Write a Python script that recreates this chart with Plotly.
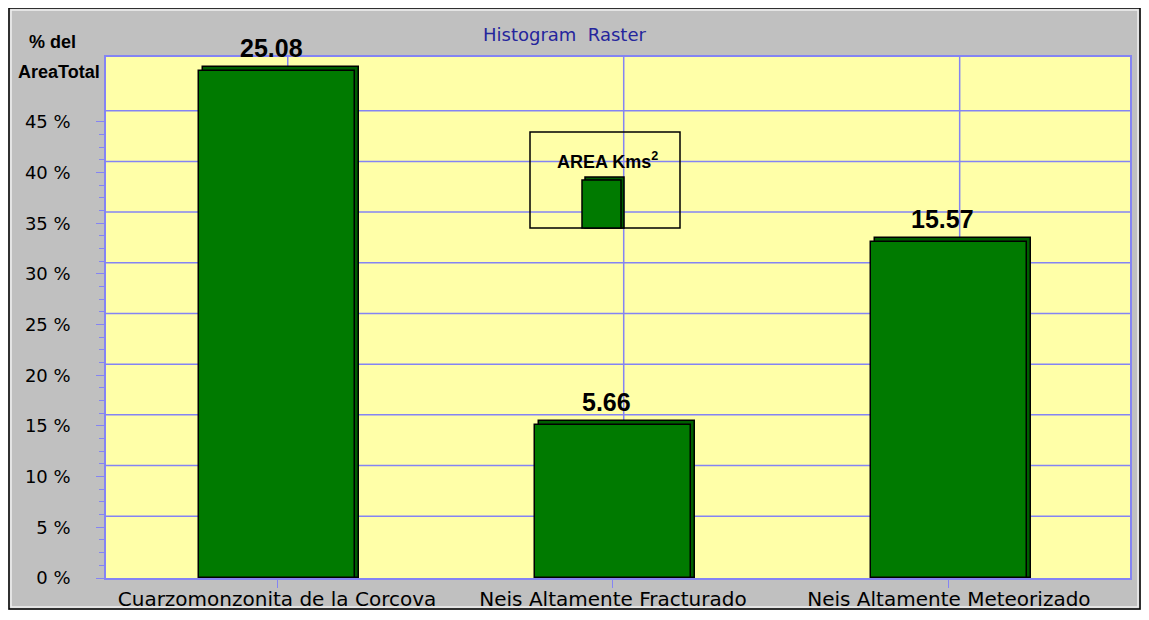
import plotly.graph_objects as go

# data
categories = ['Cuarzomonzonita de la Corcova', 'Neis Altamente Fracturado', 'Neis Altamente Meteorizado']
pct_area = [50.0, 15.1, 33.1]          # bar height, % del area total
area_kms2 = ['25.08', '5.66', '15.57']  # labels above bars
y_ticks = [0, 5, 10, 15, 20, 25, 30, 35, 40, 45]
y_tick_labels = ['%d %%' % v for v in y_ticks]

# page has an 8px body margin, so the figure starts at (8, 8) of the window
OFF = 8
W, H = 1141 - OFF, 610 - OFF
L, R, T, B = 106, 1130, 57, 578   # plot area in window pixels

def px(x):
    return (x - L) / (R - L)

def py(y):
    return (B - y) / (B - T)

grid_col = '#8484f4'
bold_font = 'Liberation Sans Narrow, Arial Narrow, Liberation Sans, Arial'
depth = 0.4    # 3d look of the old chart
shift = 0.012

fig = go.Figure()

# back face (depth)
fig.add_trace(go.Bar(
    x=categories,
    y=[v + depth for v in pct_area],
    width=0.464, offset=-0.232 + shift,
    marker=dict(color='#005f00', line=dict(color='black', width=1.5)),
    hoverinfo='skip'))

# front face
fig.add_trace(go.Bar(
    x=categories,
    y=pct_area,
    width=0.464, offset=-0.232,
    marker=dict(color='#007a00', line=dict(color='black', width=1.5))))

# value labels
for c, v, t in zip(categories, pct_area, area_kms2):
    fig.add_annotation(x=c, y=v + depth, text=t, showarrow=False, yanchor='bottom', yshift=3,
                       xshift=-6,
                       font=dict(family=bold_font, size=25, color='black', weight='bold'))

shapes = []
# the grid in the original is drawn a little off the ticks
for k in range(1, 10):
    shapes.append(dict(type='line', xref='paper', yref='y', x0=0, x1=1, y0=5 * k + 1.1, y1=5 * k + 1.1,
                       line=dict(color=grid_col, width=1.5), layer='below'))
for i in range(len(categories)):
    shapes.append(dict(type='line', xref='x', yref='paper', x0=i + 0.032, x1=i + 0.032, y0=0, y1=1,
                       line=dict(color=grid_col, width=1.5), layer='below'))
# window frame
shapes.append(dict(type='rect', xref='paper', yref='paper', x0=px(9), x1=px(1140), y0=py(609), y1=py(8),
                   line=dict(color='black', width=1.5), layer='above'))
shapes.append(dict(type='rect', xref='paper', yref='paper', x0=px(11), x1=px(1138), y0=py(607), y1=py(10),
                   line=dict(color='#f0f0f0', width=1.5), layer='above'))
# legend box
shapes.append(dict(type='rect', xref='paper', yref='paper', x0=px(530), x1=px(680), y0=py(228), y1=py(132),
                   line=dict(color='black', width=1.5), layer='above'))
shapes.append(dict(type='rect', xref='paper', yref='paper', x0=px(585), x1=px(624), y0=py(228), y1=py(177),
                   fillcolor='#005f00', line=dict(color='black', width=1.5), layer='above'))
shapes.append(dict(type='rect', xref='paper', yref='paper', x0=px(582), x1=px(621), y0=py(228), y1=py(180),
                   fillcolor='#007a00', line=dict(color='black', width=1.5), layer='above'))

fig.update_layout(
    width=W, height=H,
    margin=dict(l=L - OFF, r=W - (R - OFF), t=T - OFF, b=H - (B - OFF)),
    paper_bgcolor='#c0c0c0',
    plot_bgcolor='#ffffa8',
    barmode='overlay',
    bargap=0,
    showlegend=False,
    shapes=shapes,
    xaxis=dict(range=[-0.509, 2.539], showgrid=False, showline=True, linecolor=grid_col, linewidth=1.5,
               mirror=True, ticks='outside', ticklen=8, tickcolor=grid_col, automargin=False,
               ticklabelstandoff=-6,
               tickfont=dict(family='DejaVu Sans', size=20, color='black')),
    yaxis=dict(range=[0, 51.4], showgrid=False, zeroline=False, showline=True, linecolor=grid_col,
               linewidth=1.5, mirror=True, tickmode='array', tickvals=y_ticks, ticktext=y_tick_labels,
               ticks='outside', ticklen=8, tickcolor=grid_col, ticklabelstandoff=22, automargin=False,
               tickfont=dict(family='DejaVu Sans', size=18, color='black'),
               minor=dict(tickmode='array', tickvals=[k * 1.25 for k in range(37)], ticks='outside',
                          ticklen=5, tickcolor=grid_col)),
)

# titles
def label(x, y, text, **font):
    fig.add_annotation(xref='paper', yref='paper', x=px(x), y=py(y), text=text, showarrow=False,
                       xanchor='center', yanchor='middle', font=font)

label(564, 35, 'Histogram  Raster', family='DejaVu Sans', size=18, color='#25259c')
label(52, 42, '% del', family=bold_font, size=18, color='black', weight='bold')
label(59, 72, 'AreaTotal', family=bold_font, size=18, color='black', weight='bold')
label(607, 160, 'AREA Kms<sup>2</sup>', family=bold_font, size=18, color='black', weight='bold')

fig.write_html("out.html")
